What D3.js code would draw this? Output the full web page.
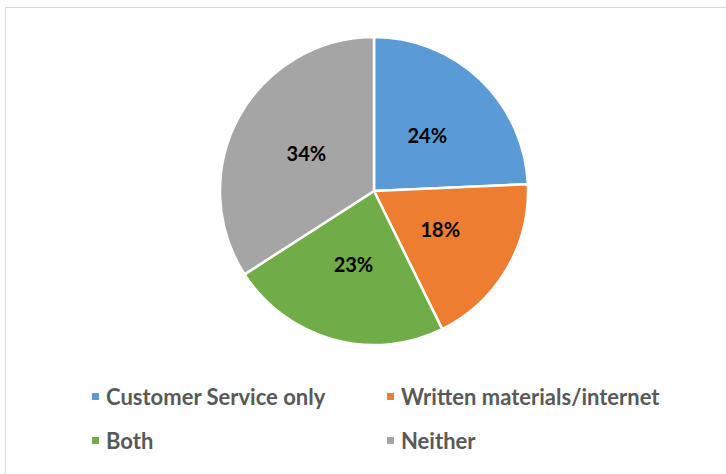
<!DOCTYPE html>
<html>
<head>
<meta charset="utf-8">
<script src="https://cdn.jsdelivr.net/npm/d3@7"></script>
<style>
  body { margin: 0; background: #fff; }
  svg { display: block; }
</style>
</head>
<body>
<div id="chart"></div>
<script>
// categories and shares (labels show rounded values)
var categories = ['Customer Service only', 'Written materials/internet', 'Both', 'Neither'];
var shares = [24.3, 18.4, 23.2, 34.1];
var labels = ['24%', '18%', '23%', '34%'];
var colors = ['#5B9BD5', '#ED7D31', '#70AD47', '#A5A5A5'];

var width = 726, height = 474;
var cx = 374, cy = 191, radius = 154;

var svg = d3.select('#chart').append('svg')
  .attr('width', width)
  .attr('height', height);

// chart area border
svg.append('rect')
  .attr('x', 5.5).attr('y', 7.5)
  .attr('width', width + 10).attr('height', height + 10)
  .attr('fill', 'none')
  .attr('stroke', '#d9d9d9')
  .attr('stroke-width', 1);

var data = categories.map(function(c, i) {
  return { name: c, value: shares[i], label: labels[i], color: colors[i] };
});

var pie = d3.pie().sort(null).value(function(d) { return d.value; });
var arc = d3.arc().innerRadius(0).outerRadius(radius);
var labelArc = d3.arc().innerRadius(77).outerRadius(77);

var g = svg.append('g').attr('transform', 'translate(' + cx + ',' + cy + ')');

var slices = g.selectAll('.slice').data(pie(data)).enter().append('g').attr('class', 'slice');

slices.append('path')
  .attr('d', arc)
  .attr('fill', function(d) { return d.data.color; })
  .attr('stroke', '#fff')
  .attr('stroke-width', 2.5)
  .attr('stroke-linejoin', 'round');

slices.append('text')
  .attr('transform', function(d) { return 'translate(' + labelArc.centroid(d) + ')'; })
  .attr('text-anchor', 'middle')
  .attr('dy', '0.36em')
  .style('font-family', 'Lato, "Open Sans", sans-serif')
  .style('font-weight', 'bold')
  .style('font-size', '20px')
  .attr('fill', '#000')
  .text(function(d) { return d.data.label; });

// legend, two columns by two rows
var legendX = [92, 387], legendY = [397, 441];
var legend = svg.selectAll('.legend').data(data).enter().append('g')
  .attr('class', 'legend')
  .attr('transform', function(d, i) {
    return 'translate(' + legendX[i % 2] + ',' + legendY[Math.floor(i / 2)] + ')';
  });

legend.append('rect')
  .attr('x', 0).attr('y', -4)
  .attr('width', 7).attr('height', 7)
  .attr('fill', function(d) { return d.color; });

legend.append('text')
  .attr('x', 14)
  .attr('dy', '0.36em')
  .style('font-family', 'Lato, "Open Sans", sans-serif')
  .style('font-weight', 'bold')
  .style('font-size', '22px')
  .attr('fill', '#595959')
  .text(function(d) { return d.name; });
</script>
</body>
</html>
